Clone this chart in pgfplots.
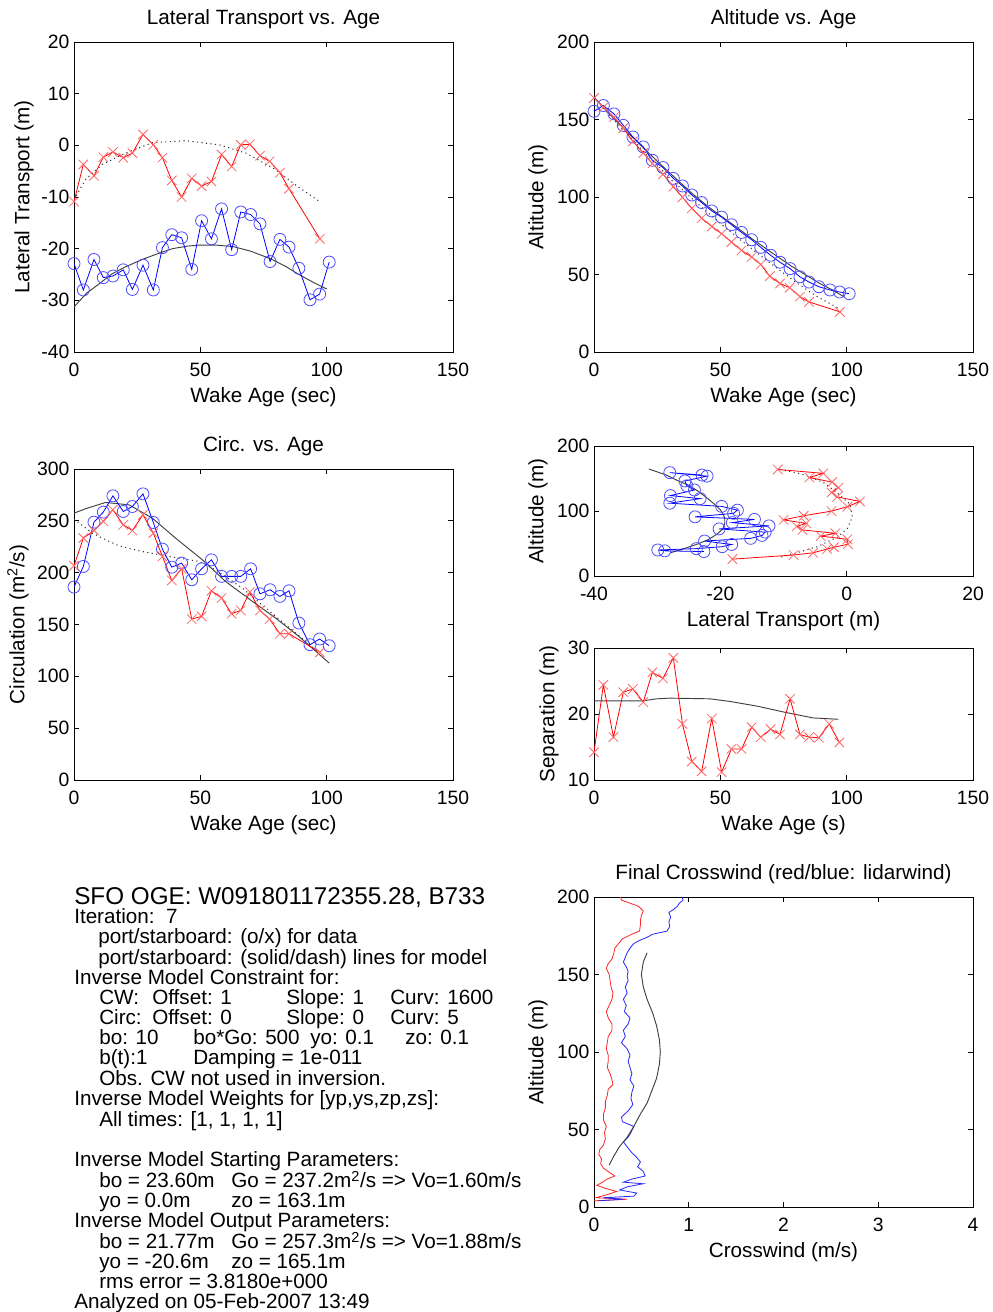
\documentclass[border=0pt]{standalone}
\usepackage{fontspec}
\setmainfont{Liberation Sans}
\usepackage{pgfplots}
\pgfplotsset{compat=1.18}
\newcommand\lbl{\fontsize{15.5}{17}\selectfont}
\newcommand\tkl{\fontsize{14.5}{16}\selectfont}
\pgfplotsset{
 mat/.style={
  scale only axis, width=284.25pt, anchor=south west,
  axis line style={line width=0.5pt},
  tick style={black, line width=0.5pt},
  tick align=inside, tick pos=both,
  major tick length=3.75pt,
  /pgf/number format/assume math mode=true,
  ticklabel style={font=\tkl},
  xticklabel style={anchor=base, yshift=-18.75pt},
  label style={font=\lbl},
  xlabel style={at={(axis description cs:0.5,0)}, anchor=base, yshift=-38.25pt},
  title style={font=\lbl, at={(axis description cs:0.5,1)}, anchor=base, yshift=6.75pt},
 },
 pdat/.style={blue, line width=0.6pt, mark=o, mark size=4.5pt, mark options={solid, blue!70, line width=0.6pt}},
 sdat/.style={red, line width=0.6pt, mark=x, mark size=5pt, mark options={solid, red!60, line width=0.6pt}},
 pmod/.style={black!75, line width=0.7pt, no marks},
 smod/.style={black!80, line width=0.8pt, dash pattern=on 0.8pt off 2.6pt, no marks},
}
\newcommand\T[3]{\node[anchor=base west, inner sep=0pt, font=\fontsize{15.5}{17}\selectfont] at ({#1*0.75pt}, {(1312-#2)*0.75pt}) {#3};}
\begin{document}
\begin{tikzpicture}
\useasboundingbox (0,0) rectangle (744pt,984pt);
\fill[white] (0,0) rectangle (744pt,984pt);

% ---------- Lateral transport vs age
\begin{axis}[mat, at={(55.5pt,720pt)}, height=232.5pt,
  xmin=0, xmax=150, ymin=-40, ymax=20, xtick={0,50,100,150}, ytick={-40,-30,...,20},
  title={Lateral Transport vs. Age}, xlabel={Wake Age (sec)}, ylabel={Lateral Transport (m)},
  ylabel style={at={(axis description cs:-0.132,0.5)}, anchor=center}]
\addplot[pmod] coordinates {(0,-31.3)(5,-28.6)(10,-26.8)(15,-24.9)(20,-23.6)(27,-22.1)(33,-21.0)(39,-20.0)(45,-19.5)(50,-19.3)(56,-19.3)(63,-19.6)(70,-20.5)(78,-22.0)(84,-23.5)(89,-25.0)(95,-26.6)(100,-27.8)};
\addplot[smod] coordinates {(0,-10.5)(4.6,-6.6)(11.2,-3.7)(20.4,-1.5)(31,0.5)(44.2,0.9)(57.4,0.1)(68,-1.5)(79.8,-4.7)(88,-7.8)(97,-10.8)};
\addplot[pdat] coordinates {(0,-22.9)(3.7,-28.0)(7.9,-22.1)(11.6,-25.6)(15.4,-25.3)(19.5,-24.1)(23.1,-27.9)(27.3,-23.2)(31.4,-28.0)(35.0,-19.8)(38.7,-17.3)(42.6,-17.9)(46.6,-24.0)(50.5,-14.6)(54.4,-18.1)(58.4,-12.3)(62.4,-20.2)(66.0,-12.9)(69.9,-13.4)(73.6,-15.2)(77.6,-22.5)(81.5,-18.2)(85.1,-19.7)(89.0,-23.8)(93.4,-29.9)(97.2,-28.8)(101.0,-22.6)};
\addplot[sdat] coordinates {(0,-10.9)(3.7,-3.7)(7.9,-5.9)(11.6,-2.3)(15.4,-1.3)(19.5,-2.4)(23.1,-1.5)(27.3,2.1)(31.4,0.1)(35.0,-2.4)(38.7,-6.8)(42.6,-10.0)(46.6,-6.4)(50.5,-7.9)(54.4,-7.0)(58.4,-1.8)(62.4,-4.1)(66.0,0.1)(69.6,0.2)(73.6,-2.0)(77.4,-3.1)(81.5,-5.3)(85.1,-8.4)(97.3,-18.1)};
\end{axis}

% ---------- Altitude vs age
\begin{axis}[mat, at={(445.5pt,720pt)}, height=232.5pt,
  xmin=0, xmax=150, ymin=0, ymax=200, xtick={0,50,100,150}, ytick={0,50,...,200},
  title={Altitude vs. Age}, xlabel={Wake Age (sec)}, ylabel={Altitude (m)},
  ylabel style={at={(axis description cs:-0.148,0.5)}, anchor=center}]
\addplot[pmod] coordinates {(0,164.5)(5,155.5)(10,147)(15,139)(20,131)(27,120)(33,111)(39,102)(45,94)(50,88)(56,81)(63,72.5)(70,64.5)(78,55.5)(84,49.5)(89,44.5)(95,39.5)(99,35.5)};
\addplot[smod] coordinates {(0,164)(4.6,155.5)(11.2,144)(20.4,128)(31,110.5)(44.2,91)(57.4,73)(68,59.5)(79.8,45)(88,36)(97,28)};
\addplot[pdat] coordinates {(0,155.3)(3.7,159.0)(7.9,153.6)(11.6,146.2)(15.4,138.7)(19.5,132.3)(23.1,123.7)(27.3,119.0)(31.4,112.0)(35.0,107.1)(38.7,101.3)(42.6,96.4)(46.6,91.0)(50.5,87.0)(54.4,82.1)(58.4,77.1)(62.4,72.4)(66.0,67.5)(69.9,62.4)(73.6,57.9)(77.6,53.8)(81.5,48.5)(85.1,45.1)(89.0,42.1)(93.4,40.0)(97.2,38.7)(101.0,37.6)};
\addplot[sdat] coordinates {(0,163.9)(3.7,157.9)(7.9,151.5)(11.6,144.4)(15.4,135.9)(19.5,128.4)(23.1,121.6)(27.3,114.7)(31.4,106.6)(35.0,99.8)(38.7,92.7)(42.6,86.3)(46.6,81.0)(50.5,76.3)(54.4,70.9)(58.4,65.6)(62.4,61.3)(66.0,56.4)(69.6,48.9)(73.6,44.2)(77.4,41.5)(81.5,35.7)(85.1,32.3)(97.3,25.9)};
\end{axis}

% ---------- Circ vs age
\begin{axis}[mat, at={(55.5pt,399pt)}, height=233.25pt,
  xmin=0, xmax=150, ymin=0, ymax=300, xtick={0,50,100,150}, ytick={0,50,...,300},
  title={Circ. vs. Age}, xlabel={Wake Age (sec)}, ylabel={Circulation (m\textsuperscript{2}/s)},
  ylabel style={at={(axis description cs:-0.148,0.5)}, anchor=center}]
\addplot[pmod] coordinates {(0,257.4)(5,262)(12.5,267.7)(21.8,265.4)(31,252.6)(40.2,233.3)(50.8,212.4)(60,191.5)(70.6,172.3)(79.8,156.2)(89,138.5)(101,112.8)};
\addplot[smod] coordinates {(0,251.6)(7.3,238.1)(11.2,233.3)(17.8,225.9)(27,220.4)(37.6,215.6)(49.5,210.8)(56,202.8)(66.6,185.1)(79.8,157.8)(97,123.1)};
\addplot[pdat] coordinates {(0,186.1)(3.7,206.0)(7.9,248.7)(11.6,258.4)(15.4,274.1)(19.5,259.0)(23.1,263.8)(27.3,276.0)(31.4,248.4)(35.0,222.7)(38.7,205.3)(42.6,209.2)(46.6,193.1)(50.5,203.7)(54.4,212.4)(58.4,196.4)(62.4,196.4)(66.0,196.4)(69.9,203.7)(73.6,179.6)(77.6,183.5)(81.5,177.1)(85.1,182.5)(89.0,151.4)(93.4,130.5)(97.2,136.0)(101.0,129.5)};
\addplot[sdat] coordinates {(0,206.6)(3.7,233.3)(7.9,240.7)(11.6,249.4)(15.4,260.6)(19.5,246.1)(23.1,240.7)(27.3,255.8)(31.4,238.1)(35.0,215.6)(38.7,192.5)(42.6,203.7)(46.6,155.2)(50.5,157.8)(54.4,182.5)(58.4,175.5)(62.4,160.4)(66.0,163.6)(69.6,181.3)(73.6,163.6)(77.4,155.2)(81.5,141.1)(85.1,141.1)(97.3,123.1)};
\end{axis}

% ---------- Altitude vs lateral transport
\begin{axis}[mat, at={(445.5pt,552pt)}, height=97.5pt,
  xmin=-40, xmax=20, ymin=0, ymax=200, xtick={-40,-20,0,20}, ytick={0,100,200},
  xlabel={Lateral Transport (m)}, ylabel={Altitude (m)},
  ylabel style={at={(axis description cs:-0.148,0.5)}, anchor=center}]
\addplot[pmod] coordinates {(-31.3,164.5)(-28.6,155.5)(-26.8,147)(-24.9,139)(-23.6,131)(-22.1,120)(-21.0,111)(-20.0,102)(-19.5,94)(-19.3,88)(-19.3,81)(-19.6,72.5)(-20.5,64.5)(-22.0,55.5)(-23.5,49.5)(-25.0,44.5)(-26.6,39.5)(-27.8,36)};
\addplot[smod] coordinates {(-10.5,164)(-6.6,155.5)(-3.7,144)(-1.5,128)(0.5,110.5)(0.9,91)(0.1,73)(-1.5,59.5)(-4.7,45)(-7.8,36)(-10.8,28)};
\addplot[pdat] coordinates {(-22.9,155.3)(-28.0,159.0)(-22.1,153.6)(-25.6,146.2)(-25.3,138.7)(-24.1,132.3)(-27.9,123.7)(-23.2,119.0)(-28.0,112.0)(-19.8,107.1)(-17.3,101.3)(-17.9,96.4)(-24.0,91.0)(-14.6,87.0)(-18.1,82.1)(-12.3,77.1)(-20.2,72.4)(-12.9,67.5)(-13.4,62.4)(-15.2,57.9)(-22.5,53.8)(-18.2,48.5)(-19.7,45.1)(-23.8,42.1)(-29.9,40.0)(-28.8,38.7)(-22.6,37.6)};
\addplot[sdat] coordinates {(-10.9,163.9)(-3.7,157.9)(-5.9,151.5)(-2.3,144.4)(-1.3,135.9)(-2.4,128.4)(-1.5,121.6)(2.1,114.7)(0.1,106.6)(-2.4,99.8)(-6.8,92.7)(-10.0,86.3)(-6.4,81.0)(-7.9,76.3)(-7.0,70.9)(-1.8,65.6)(-4.1,61.3)(0.1,56.4)(0.2,48.9)(-2.0,44.2)(-3.1,41.5)(-5.3,35.7)(-8.4,32.3)(-18.1,25.9)};
\end{axis}

% ---------- Separation
\begin{axis}[mat, at={(445.5pt,399pt)}, height=99pt,
  xmin=0, xmax=150, ymin=10, ymax=30, xtick={0,50,100,150}, ytick={10,20,30},
  xlabel={Wake Age (s)}, ylabel={Separation (m)},
  ylabel style={at={(axis description cs:-0.119,0.5)}, anchor=center}]
\addplot[pmod] coordinates {(0,22.0)(19.5,22.0)(24.8,22.3)(30,22.4)(45.9,22.3)(53.8,21.9)(64.4,21.2)(76.3,20.2)(86.8,19.4)(96.7,19.2)};
\addplot[sdat] coordinates {(0,14.2)(3.7,24.4)(7.7,16.5)(11.6,23.3)(15.4,23.8)(19.5,21.8)(23.1,26.3)(27.3,25.4)(31.4,28.5)(35.0,18.5)(38.7,12.8)(42.6,11.3)(46.6,19.3)(50.5,11.2)(54.4,14.7)(58.4,14.7)(62.4,18.0)(66.0,16.5)(69.9,17.7)(73.6,16.9)(77.6,22.3)(81.5,16.9)(85.1,16.5)(89.0,16.4)(93.1,18.5)(97.1,15.7)};
\end{axis}

% ---------- Final crosswind
\begin{axis}[mat, at={(445.5pt,78.75pt)}, height=232.5pt,
  xmin=0, xmax=4, ymin=0, ymax=200, xtick={0,1,2,3,4}, ytick={0,50,...,200},
  title={Final Crosswind (red/blue: lidarwind)}, xlabel={Crosswind (m/s)}, ylabel={Altitude (m)},
  ylabel style={at={(axis description cs:-0.148,0.5)}, anchor=center}]
\addplot[red!85, line width=0.6pt, no marks] coordinates {(0.28,200)(0.29,198)(0.38,196)(0.47,194)(0.52,191)(0.50,188)(0.49,185)(0.49,182)(0.48,178)(0.40,176)(0.30,173)(0.26,170)(0.22,167)(0.21,164)(0.19,160)(0.15,157)(0.13,154)(0.16,150)(0.17,146)(0.18,142)(0.20,138)(0.19,134)(0.16,130)(0.13,126)(0.15,122)(0.19,118)(0.19,114)(0.15,110)(0.14,106)(0.13,102)(0.15,98)(0.15,94)(0.14,90)(0.17,86)(0.19,82)(0.20,79)(0.15,76)(0.14,72)(0.12,68)(0.12,64)(0.10,60)(0.10,56)(0.13,52)(0.11,48)(0.12,44)(0.10,40)(0.06,37)(0.05,34)(0.08,31)(0.07,28)(0.10,25)(0.17,22)(0.22,20)(0.14,18)(0.09,16)(0.03,14)(0.12,12)(0.24,10)(0.14,8)(0.02,6)(0.35,5)(0.0,4)};
\addplot[blue!85, line width=0.6pt, no marks] coordinates {(0.93,200)(0.94,198)(0.90,196)(0.88,194)(0.84,192)(0.79,190)(0.81,187)(0.79,184)(0.80,181)(0.77,178)(0.62,176)(0.56,174)(0.48,172)(0.42,170)(0.38,167)(0.35,164)(0.33,161)(0.31,158)(0.34,155)(0.36,152)(0.35,149)(0.36,146)(0.33,142)(0.35,138)(0.31,134)(0.34,130)(0.32,126)(0.38,122)(0.36,118)(0.31,114)(0.33,110)(0.29,106)(0.35,102)(0.38,98)(0.36,94)(0.38,90)(0.40,86)(0.38,82)(0.42,78)(0.40,74)(0.39,70)(0.41,66)(0.36,62)(0.29,58)(0.30,55)(0.42,52)(0.39,48)(0.36,45)(0.31,42)(0.36,38)(0.40,35)(0.45,32)(0.49,29)(0.46,26)(0.52,23)(0.54,20)(0.40,18)(0.31,16)(0.52,15)(0.35,13)(0.27,11)(0.45,9)(0.42,7)(0.10,6)(0.31,5)(0.05,4)};
\addplot[pmod] coordinates {(0.56,164)(0.52,158)(0.50,150)(0.52,142)(0.56,134)(0.62,125)(0.66,117)(0.69,108)(0.70,100)(0.69,92)(0.66,83)(0.61,75)(0.56,67)(0.49,60)(0.42,52)(0.35,45)(0.27,39)(0.21,33)(0.16,27)};
\end{axis}

% ---------- text block
\node[anchor=base west, inner sep=0pt, font=\fontsize{18.2}{20}\selectfont] at ({74*0.75pt}, {(1312-905)*0.75pt}) {SFO OGE: W091801172355.28, B733};
\T{74}{924}{Iteration:\ \ 7}
\T{98}{944}{port/starboard: (o/x) for data}
\T{98}{965}{port/starboard: (solid/dash) lines for model}
\T{74}{985}{Inverse Model Constraint for:}
\T{99}{1005}{CW:}\T{152}{1005}{Offset: 1}\T{286}{1005}{Slope: 1}\T{390}{1005}{Curv: 1600}
\T{99}{1025}{Circ:}\T{152}{1025}{Offset: 0}\T{286}{1025}{Slope: 0}\T{390}{1025}{Curv: 5}
\T{99}{1045}{bo: 10}\T{193}{1045}{bo*Go: 500}\T{310}{1045}{yo: 0.1}\T{405}{1045}{zo: 0.1}
\T{99}{1065}{b(t):1}\T{193}{1065}{Damping = 1e-011}
\T{99}{1086}{Obs. CW not used in inversion.}
\T{74}{1106}{Inverse Model Weights for [yp,ys,zp,zs]:}
\T{99}{1127}{All times: [1, 1, 1, 1]}
\T{74}{1167}{Inverse Model Starting Parameters:}
\T{99}{1188}{bo = 23.60m}\T{231}{1188}{Go = 237.2m\textsuperscript{2}/s => Vo=1.60m/s}
\T{99}{1208}{yo = 0.0m}\T{231}{1208}{zo = 163.1m}
\T{74}{1228}{Inverse Model Output Parameters:}
\T{99}{1249}{bo = 21.77m}\T{231}{1249}{Go = 257.3m\textsuperscript{2}/s => Vo=1.88m/s}
\T{99}{1269}{yo = -20.6m}\T{231}{1269}{zo = 165.1m}
\T{99}{1289}{rms error = 3.8180e+000}
\T{74}{1309}{Analyzed on 05-Feb-2007 13:49}
\end{tikzpicture}
\end{document}
